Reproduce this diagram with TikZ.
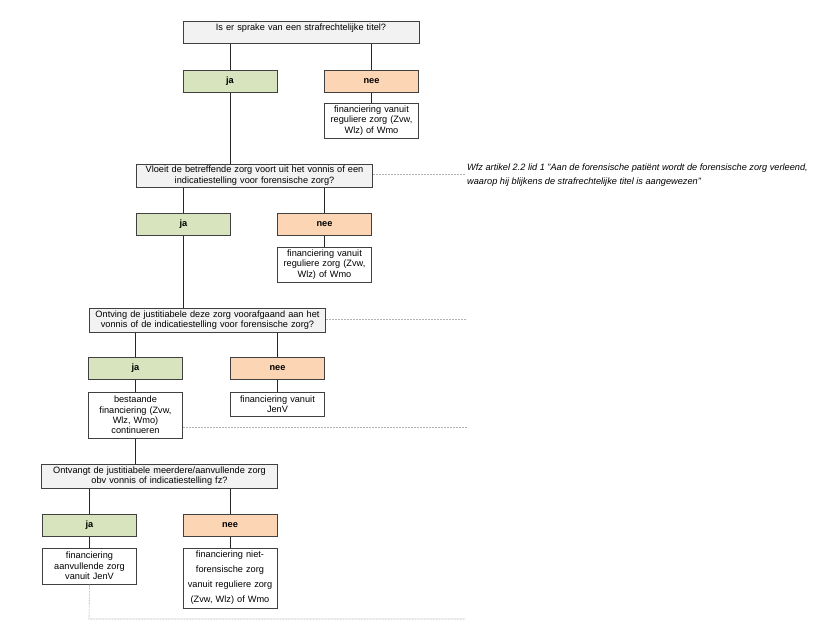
\documentclass[tikz,border=0pt]{standalone}
\usepackage{fontspec}
\setmainfont{Liberation Sans}
\definecolor{jagreen}{HTML}{D7E4BD}
\definecolor{neeorange}{HTML}{FCD5B5}
\definecolor{qgray}{HTML}{F2F2F2}
\definecolor{rand}{HTML}{404040}
\tikzset{
  box/.style={draw=rand, line width=1pt, inner sep=1pt, align=center,
    font=\fontsize{9.2}{10.4}\selectfont},
  qbox/.style={box, fill=qgray, minimum width=236pt, minimum height=23pt, text width=232pt},
  jabox/.style={box, fill=jagreen, minimum width=94pt, minimum height=22pt, font=\fontsize{9.2}{10.4}\selectfont\bfseries},
  neebox/.style={jabox, fill=neeorange},
  finbox/.style={box, fill=white, minimum width=94pt, text width=92pt},
  link/.style={line width=0.8pt, black!85},
  hint/.style={gray!60, line width=0.6pt, dash pattern=on 2pt off 1pt}
}
\begin{document}
\begin{tikzpicture}[x=1pt, y=-1pt]
        \useasboundingbox (0,0) rectangle (830,640);

        % vraag 1
        \node[qbox, minimum height=22pt, text depth=9pt] (q1) at (301,32) {Is er sprake van een strafrechtelijke titel?};
        \node[jabox] (ja1) at (230,81) {ja};
        \node[neebox] (nee1) at (371.5,81) {nee};
        \node[finbox, minimum height=35pt] (fin1) at (371.5,120.5) {financiering vanuit\\reguliere zorg (Zvw,\\Wlz) of Wmo};

        % vraag 2
        \node[qbox] (q2) at (254.5,175.5) {Vloeit de betreffende zorg voort uit het vonnis of een\\indicatiestelling voor forensische zorg?};
        \node[jabox] (ja2) at (183.5,224.5) {ja};
        \node[neebox] (nee2) at (324.5,224.5) {nee};
        \node[finbox, minimum height=35pt] (fin2) at (324.5,264.5) {financiering vanuit\\reguliere zorg (Zvw,\\Wlz) of Wmo};
        \node[anchor=west, align=left, inner sep=0pt, font=\fontsize{9.2}{13.5}\selectfont\itshape] (wfz) at (467,175)
          {Wfz artikel 2.2 lid 1 "Aan de forensische patiënt wordt de forensische zorg verleend,\\waarop hij blijkens de strafrechtelijke titel is aangewezen"};

        % vraag 3
        \node[qbox, minimum height=24pt] (q3) at (207.5,320) {Ontving de justitiabele deze zorg voorafgaand aan het\\vonnis of de indicatiestelling voor forensische zorg?};
        \node[jabox] (ja3) at (135.5,368.5) {ja};
        \node[neebox] (nee3) at (277.5,368.5) {nee};
        \node[finbox, minimum height=46pt] (fin3a) at (135.5,415) {bestaande\\financiering (Zvw,\\Wlz, Wmo)\\continueren};
        \node[finbox, minimum height=24pt] (fin3b) at (277.5,404) {financiering vanuit\\JenV};

        % vraag 4
        \node[qbox, minimum height=24pt] (q4) at (159.5,476) {Ontvangt de justitiabele meerdere/aanvullende zorg\\obv vonnis of indicatiestelling fz?};
        \node[jabox] (ja4) at (89.5,525.5) {ja};
        \node[neebox] (nee4) at (230,525.5) {nee};
        \node[finbox, minimum height=36pt] (fin4a) at (89.5,566) {financiering\\aanvullende zorg\\vanuit JenV};
        \node[finbox, minimum height=60pt, font=\fontsize{9.2}{15}\selectfont] (fin4b) at (230,578) {financiering niet-\\forensische zorg\\vanuit reguliere zorg\\(Zvw, Wlz) of Wmo};

        \coordinate (h1) at (465,174);
        \coordinate (h2) at (467,319);
        \coordinate (h3) at (467,427);
        \coordinate (h4) at (89,619);
        \coordinate (h5) at (465,619);

        \draw[link] (q1.south -| ja1) -- (ja1.north);
        \draw[link] (q1.south -| nee1) -- (nee1.north);
        \draw[link] (nee1) -- (fin1);
        \draw[link] (ja1.south) -- (ja1.south |- q2.north);

        \draw[link] (q2.south -| ja2) -- (ja2.north);
        \draw[link] (q2.south -| nee2) -- (nee2.north);
        \draw[link] (nee2) -- (fin2);
        \draw[link] (ja2.south) -- (ja2.south |- q3.north);

        \draw[link] (q3.south -| ja3) -- (ja3.north);
        \draw[link] (q3.south -| nee3) -- (nee3.north);
        \draw[link] (ja3) -- (fin3a);
        \draw[link] (nee3) -- (fin3b);
        \draw[link] (fin3a.south) -- (fin3a.south |- q4.north);

        \draw[link] (q4.south -| ja4) -- (ja4.north);
        \draw[link] (q4.south -| nee4) -- (nee4.north);
        \draw[link] (ja4) -- (fin4a);
        \draw[link] (nee4) -- (fin4b);

        % stippellijnen
        \draw[hint] (q2.east |- h1) -- (h1);
        \draw[hint] (q3.east |- h2) -- (h2);
        \draw[hint] (fin3a.east |- h3) -- (h3);
        \draw[hint] (fin4a.south) -- (h4) -- (h5);
\end{tikzpicture}
\end{document}
